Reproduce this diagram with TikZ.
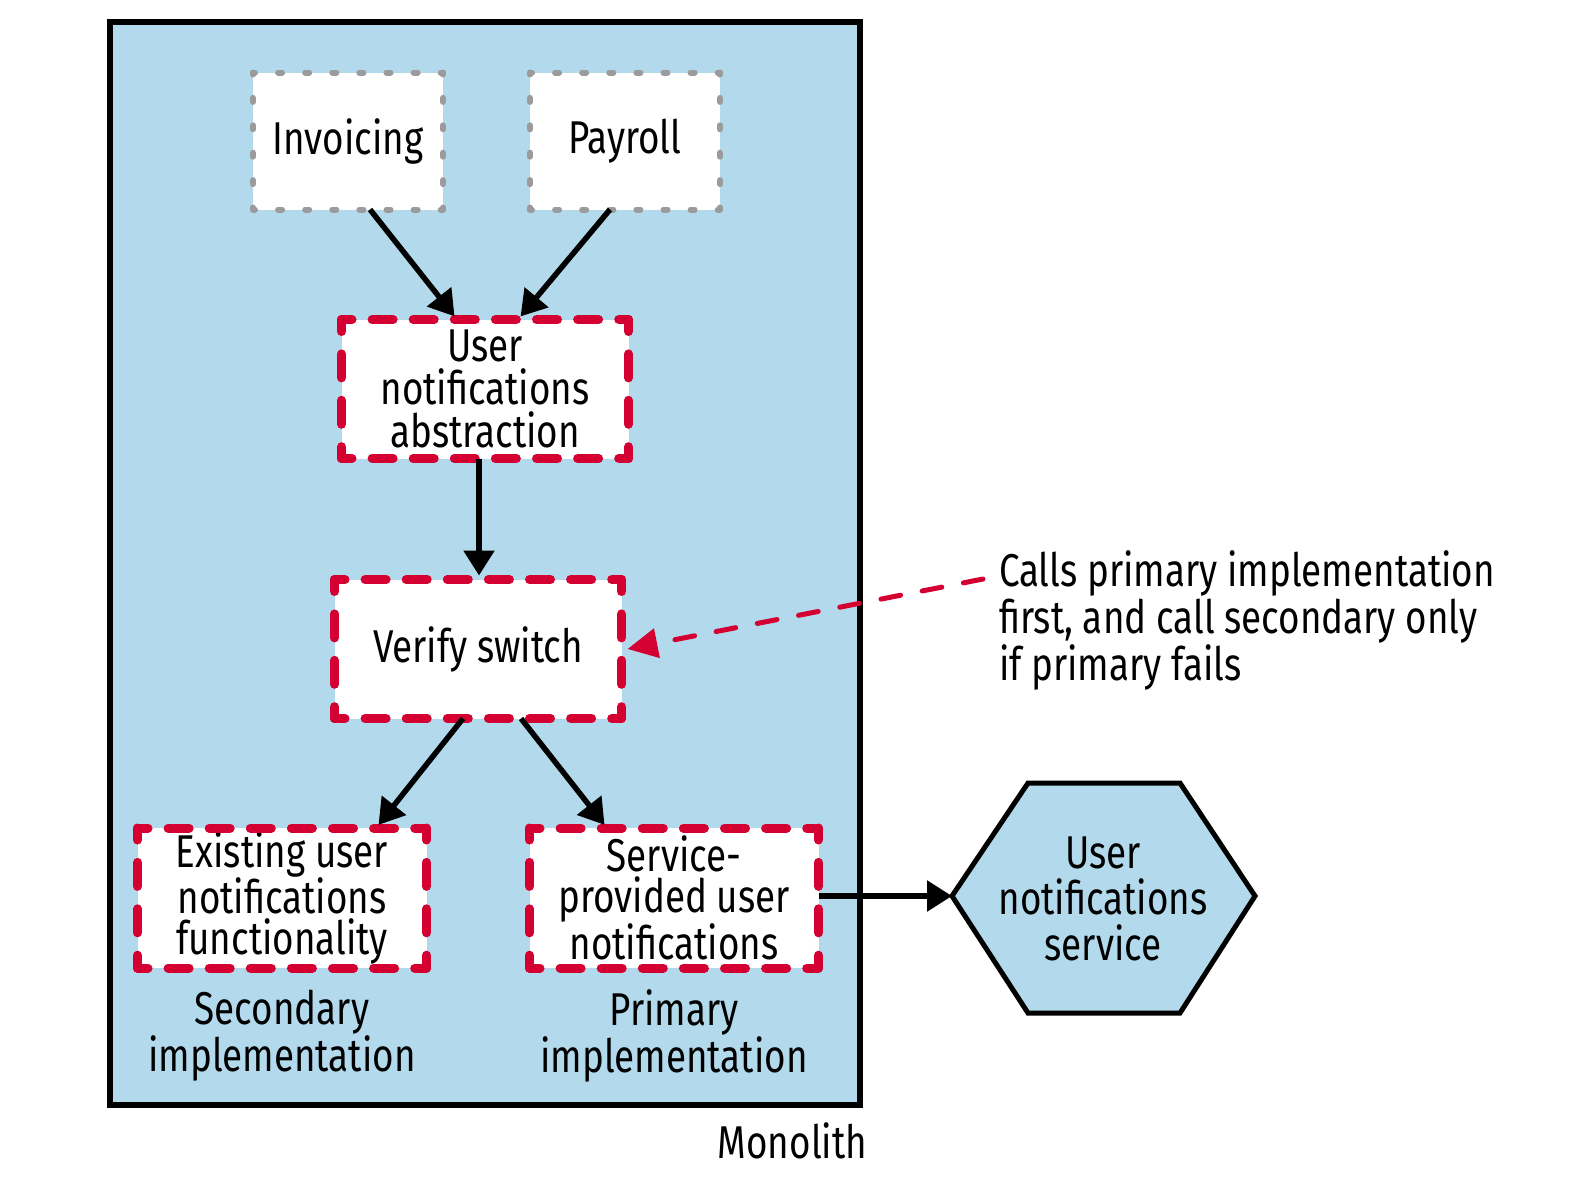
\documentclass[tikz,border=0pt]{standalone}
\usepackage{fontspec}
\setmainfont[FakeStretch=0.8]{Fira Sans}
\usetikzlibrary{arrows.meta}
\definecolor{monofill}{HTML}{B3DAEC}
\definecolor{redd}{HTML}{D50032}
\definecolor{grayd}{HTML}{9B9B9B}
\newcommand\dashframe[3]{%
  \draw[#2] (#1.north west) -- (#1.north east);
  \draw[#2] (#1.south west) -- (#1.south east);
  \draw[#3] (#1.north west) -- (#1.south west);
  \draw[#3] (#1.north east) -- (#1.south east);}
\begin{document}
\begin{tikzpicture}[x=1pt,y=-1pt,
  every node/.style={font=\fontsize{46}{43}\selectfont, align=center, inner sep=0pt, outer sep=0pt},
  grbox/.style={fill=white, minimum width=190pt, minimum height=137pt},
  rdbox/.style={fill=white, minimum width=287pt, minimum height=139pt},
  gdh/.style={draw=grayd, line width=6pt, line cap=round, dash pattern=on 4pt off 23.1pt, dash phase=2pt},
  gdv/.style={draw=grayd, line width=6pt, line cap=round, dash pattern=on 4pt off 23.4pt, dash phase=2pt},
  rdh/.style={draw=redd, line width=9pt, line cap=round, dash pattern=on 21pt off 20.1pt, dash phase=10.5pt},
  rdv/.style={draw=redd, line width=9pt, line cap=round, dash pattern=on 24pt off 22.4pt, dash phase=12pt},
  arr/.style={line width=5.5pt, -{Triangle[length=25pt,width=30pt]}},
  callarr/.style={draw=redd, line width=5pt, dash pattern=on 20pt off 22pt, line cap=round, -{Triangle[length=30pt,width=29pt]}},
  lbl/.style={font=\fontsize{46}{47}\selectfont},
]
\useasboundingbox (0,0) rectangle (1594,1194);
% monolith
\node[draw, line width=6pt, fill=monofill, minimum width=750pt, minimum height=1083pt] (mono) at (485,563.5) {};
\node[lbl, anchor=east] (monolbl) at (867,1141) {Monolith};
% top boxes
\node[grbox] (inv) at (348,141) {Invoicing};
\node[grbox] (pay) at (625,141) {Payroll};
\dashframe{inv}{gdh}{gdv}
\dashframe{pay}{gdh}{gdv}
% red boxes
\node[rdbox] (abs) at (485,389) {User\\notifications\\abstraction};
\node[rdbox] (vs) at (478,649) {Verify switch};
\node[rdbox, minimum width=289pt, minimum height=140pt, font=\fontsize{46}{41}\selectfont] (ex) at (282,898) {Existing user\\notifications\\functionality};
\node[rdbox, minimum width=289pt, minimum height=140pt, font=\fontsize{46}{41}\selectfont] (svc) at (674,898) {Service-\\provided user\\notifications};
\dashframe{abs}{rdh}{rdv}
\dashframe{vs}{rdh}{rdv}
\dashframe{ex}{rdh}{rdv}
\dashframe{svc}{rdh}{rdv}
% labels
\node[lbl] (seclbl) at (282,1036) {Secondary\\implementation};
\node[lbl] (prilbl) at (674,1036) {Primary\\implementation};
% hexagon
\draw[line width=5pt, fill=monofill, line join=miter] (952,896) -- (1028,783) -- (1180,783) -- (1255,896) -- (1180,1013) -- (1028,1013) -- cycle;
\coordinate (hexW) at (952,896);
\node[lbl, font=\fontsize{46}{46}\selectfont] (hex) at (1103,899) {User\\notifications\\service};
% annotation
\node[lbl, align=left, anchor=west] (note) at (999,620) {Calls primary implementation\\first, and call secondary only\\if primary fails};
\coordinate (callstart) at (983,579);
% arrows
\draw[arr, shorten >=4pt] ([xshift=22pt]inv.south) -- ([xshift=-28pt]abs.north);
\draw[arr, shorten >=4pt] ([xshift=-15pt]pay.south) -- ([xshift=33pt]abs.north);
\draw[arr, shorten >=4pt] ([xshift=-6pt]abs.south) -- ([xshift=1pt]vs.north);
\draw[arr, shorten >=4pt] ([xshift=-15pt]vs.south) -- ([xshift=94pt]ex.north);
\draw[arr, shorten >=4pt] ([xshift=43pt]vs.south) -- ([xshift=-67pt]svc.north);
\draw[arr] (svc.east |- hexW) -- (hexW);
\draw[callarr] (callstart) -- ([xshift=6pt]vs.east);
\end{tikzpicture}
\end{document}
